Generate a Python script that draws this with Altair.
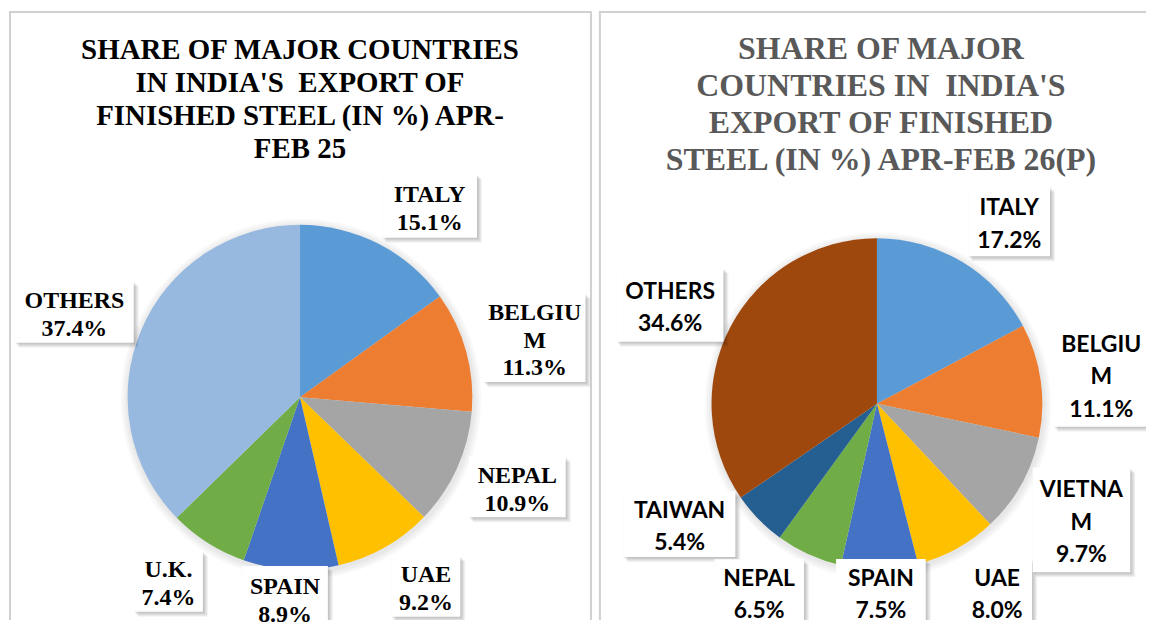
import altair as alt
import pandas as pd

# ---------------- data ----------------
l_countries = ["ITALY", "BELGIUM", "NEPAL", "UAE", "SPAIN", "U.K.", "OTHERS"]
l_names = ["ITALY", "BELGIU\nM", "NEPAL", "UAE", "SPAIN", "U.K.", "OTHERS"]
l_shares = [15.1, 11.3, 10.9, 9.2, 8.9, 7.4, 37.4]
l_colors = ["#5B9BD5", "#ED7D31", "#A5A5A5", "#FFC000", "#4472C4", "#70AD47", "#97B9E0"]
l_title = ["SHARE OF MAJOR COUNTRIES", "IN INDIA'S\u00a0 EXPORT OF",
           "FINISHED STEEL (IN %) APR-", "FEB 25"]

r_countries = ["ITALY", "BELGIUM", "VIETNAM", "UAE", "SPAIN", "NEPAL", "TAIWAN", "OTHERS"]
r_names = ["ITALY", "BELGIU\nM", "VIETNA\nM", "UAE", "SPAIN", "NEPAL", "TAIWAN", "OTHERS"]
r_shares = [17.2, 11.1, 9.7, 8.0, 7.5, 6.5, 5.4, 34.6]
r_colors = ["#5B9BD5", "#ED7D31", "#A5A5A5", "#FFC000", "#4472C4", "#70AD47", "#255E91", "#9E480E"]
r_title = ["SHARE OF MAJOR", "COUNTRIES IN\u00a0 INDIA'S",
           "EXPORT OF FINISHED", "STEEL (IN %) APR-FEB 26(P)"]

# ---------------- label layout (distance from centre, angular nudge, box size) ----------------
l_dist = [232, 243, 236, 228, 202, 227, 242]
l_nudge = [7.0, 1.2, -2.0, -4.2, 1.2, 3.2, -2.1]
l_bw = [95, 102, 97, 69, 86, 69, 119]
l_bh = [64, 89, 61, 61, 64, 61, 62]

r_dist = [226, 227, 236, 224, 189, 223, 232, 230]
r_nudge = [5.0, 0.65, 0.26, -3.8, -0.3, 7.7, 12.9, -2.2]
r_bw = [82, 95, 98, 70, 90, 90, 112, 107]
r_bh = [70, 105, 105, 66, 66, 66, 66, 74]

H = 613


def panel(countries, names, shares, colors, dist, nudge, bw, bh,
          W, cx, cy, R, title, tx, ty, tsize, tlh, tcolor,
          lfont, lsize, llh, ldy, right_border):
    df = pd.DataFrame({
        "country": countries,
        "label": [f"{n}\n{s:.1f}%" for n, s in zip(names, shares)],
        "share": shares,
        "order": list(range(len(countries))),
        "dist": dist,
        "nudge": nudge,
        "bw": bw,
        "bh": bh,
    })

    one = pd.DataFrame({"a": [0]})

    glow = alt.layer(*[
        alt.Chart(one).mark_arc(theta=0, theta2=6.2832, outerRadius=R + k,
                                color="#000000", opacity=0.025)
        .encode(x=alt.value(cx + 1), y=alt.value(cy + 2))
        for k in (2, 4, 6, 8)
    ])

    pie = alt.Chart(df).mark_arc(outerRadius=R).encode(
        theta=alt.Theta("share:Q", stack=True),
        order=alt.Order("order:Q"),
        color=alt.Color("country:N", scale=alt.Scale(domain=countries, range=colors), legend=None),
        x=alt.value(cx),
        y=alt.value(cy),
    )

    lab = alt.Chart(df).transform_joinaggregate(
        total="sum(share)"
    ).transform_window(
        cum="sum(share)", sort=[alt.SortField("order")]
    ).transform_calculate(
        ang="2*PI*(datum.cum - datum.share/2)/datum.total + datum.nudge*PI/180",
        nl="split(datum.label, '\\n').length",
    ).transform_calculate(
        lx=f"{cx} + datum.dist*sin(datum.ang)",
        ly=f"{cy} - datum.dist*cos(datum.ang)",
    ).transform_calculate(
        ty=f"datum.ly - (datum.nl - 1)*{llh}/2 + {ldy}",
        bx1="datum.lx - datum.bw/2", bx2="datum.lx + datum.bw/2",
        by1="datum.ly - datum.bh/2", by2="datum.ly + datum.bh/2",
    )

    shadows = [
        lab.transform_calculate(
            sx1=f"datum.bx1 + {k - 1}", sx2=f"datum.bx2 + {k}",
            sy1=f"datum.by1 + {k}", sy2=f"datum.by2 + {k}",
        ).mark_rect(color="#000000", opacity=0.05, clip=True).encode(
            x=alt.X("sx1:Q", scale=None, axis=None), x2="sx2:Q",
            y=alt.Y("sy1:Q", scale=None, axis=None), y2="sy2:Q")
        for k in (1, 2, 3, 4, 5)
    ]
    box = lab.mark_rect(color="#FFFFFF", clip=True).encode(
        x=alt.X("bx1:Q", scale=None, axis=None), x2="bx2:Q",
        y=alt.Y("by1:Q", scale=None, axis=None), y2="by2:Q")
    text = lab.mark_text(font=lfont, fontSize=lsize, fontWeight="bold", color="#000000",
                         lineBreak="\n", lineHeight=llh, align="center",
                         baseline="middle").encode(
        x=alt.X("lx:Q", scale=None, axis=None),
        y=alt.Y("ty:Q", scale=None, axis=None),
        text="label:N")

    ttl = alt.Chart(one).mark_text(font="Liberation Serif", fontSize=tsize, fontWeight="bold",
                                   color=tcolor, lineHeight=tlh, align="center",
                                   baseline="alphabetic").encode(
        x=alt.value(tx), y=alt.value(ty), text=alt.value(title))

    bc = "#D0D0D0"
    borders = [
        alt.Chart(one).mark_rule(color=bc, strokeWidth=2).encode(
            x=alt.value(1), y=alt.value(3), y2=alt.value(H)),
        alt.Chart(one).mark_rule(color=bc, strokeWidth=2).encode(
            x=alt.value(0), x2=alt.value(W), y=alt.value(3)),
    ]
    if right_border:
        borders.append(alt.Chart(one).mark_rule(color=bc, strokeWidth=2).encode(
            x=alt.value(W - 1), y=alt.value(3), y2=alt.value(H)))

    return alt.layer(*borders, ttl, glow, pie, *shadows, box, text).properties(
        width=W, height=H)


left = panel(l_countries, l_names, l_shares, l_colors, l_dist, l_nudge, l_bw, l_bh,
             W=585, cx=292, cy=389.5, R=173, title=l_title, tx=292, ty=50,
             tsize=29, tlh=33, tcolor="#000000",
             lfont="Liberation Serif", lsize=24, llh=28, ldy=3, right_border=True)

right = panel(r_countries, r_names, r_shares, r_colors, r_dist, r_nudge, r_bw, r_bh,
              W=549, cx=279, cy=396, R=166, title=r_title, tx=283, ty=50,
              tsize=32, tlh=37, tcolor="#595959",
              lfont="Lato", lsize=23, llh=32.5, ldy=3, right_border=False)

chart = alt.hconcat(left, right, spacing=5).resolve_scale(
    color="independent", theta="independent"
).properties(padding=0).configure_view(stroke=None)

chart.save("out.html", embed_options={"renderer": "svg", "actions": False})
